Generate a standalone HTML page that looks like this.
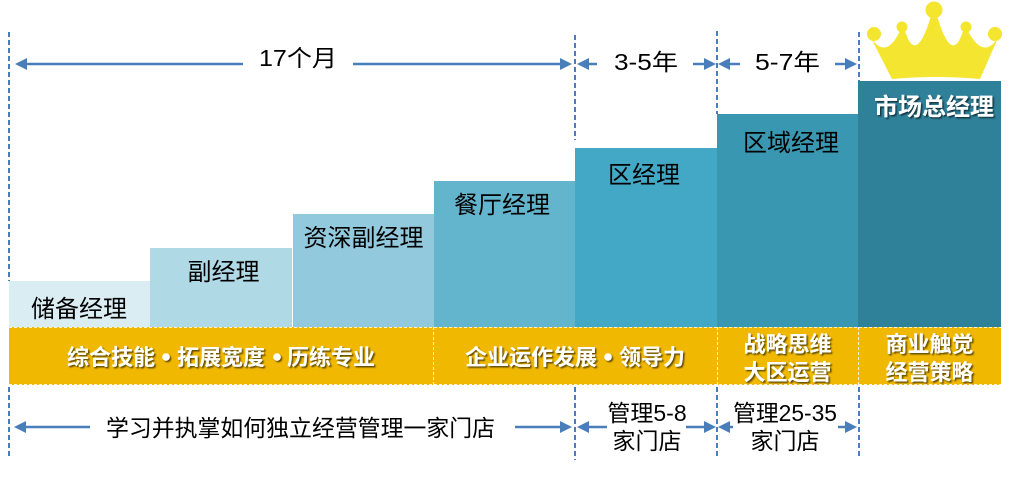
<!DOCTYPE html>
<html><head><meta charset="utf-8">
<style>
html,body{margin:0;padding:0;background:#fff;}
svg{display:block;}
text{font-family:"Liberation Sans","Noto Sans CJK SC","WenQuanYi Zen Hei",sans-serif;}
.lbl{font-size:24px;fill:#000;text-anchor:middle;}
.wb{font-size:22px;font-weight:bold;fill:#fff;text-anchor:middle;}
.blk{font-size:23px;fill:#000;text-anchor:middle;}
</style></head>
<body>
<svg width="1015" height="490" viewBox="0 0 1015 490" xmlns="http://www.w3.org/2000/svg">
<defs>
<filter id="sh" x="-10%" y="-30%" width="130%" height="170%">
<feDropShadow dx="1.5" dy="1.5" stdDeviation="0.8" flood-color="#000" flood-opacity="0.6"/>
</filter>
</defs>

<!-- crown -->
<g fill="#f4e531">
<path d="M871,38 Q886,60 900,31 L905,31 Q916,66 931,16 L937,16 Q952,66 963,31 L968,31 Q983,60 998,38 L980,79 Q936,75 892,79 Z"/>
<circle cx="934" cy="10" r="8.5"/>
<circle cx="902" cy="27" r="5.5"/>
<circle cx="966" cy="27" r="5.5"/>
<circle cx="874" cy="34" r="7"/>
<circle cx="995" cy="34" r="7"/>
</g>

<!-- bars -->
<rect x="9" y="281" width="141" height="46" fill="#daedf3"/>
<rect x="150" y="248" width="142" height="79" fill="#b0d9e6"/>
<rect x="293" y="214" width="141" height="113" fill="#93c9dc"/>
<rect x="434" y="181" width="141" height="146" fill="#63b5cd"/>
<rect x="575" y="148" width="142" height="179" fill="#43a8c6"/>
<rect x="717" y="114" width="141" height="213" fill="#3997b1"/>
<rect x="858" y="81" width="143" height="246" fill="#2e8199"/>

<!-- yellow band -->
<rect x="9" y="327" width="992" height="58" fill="#f0b800"/>
<g stroke="#fff" stroke-width="1" stroke-dasharray="3 2" fill="none" opacity="0.85">
<line x1="9" y1="327.5" x2="1001" y2="327.5"/>
<line x1="9" y1="384.5" x2="1001" y2="384.5"/>
<line x1="433.5" y1="327" x2="433.5" y2="385"/>
<line x1="717.5" y1="327" x2="717.5" y2="385"/>
<line x1="858.5" y1="327" x2="858.5" y2="385"/>
</g>

<!-- dashed blue guides -->
<g stroke="#4a7ebb" stroke-width="2" stroke-dasharray="5 3" fill="none">
<line x1="9" y1="32" x2="9" y2="281"/>
<line x1="9" y1="387" x2="9" y2="458"/>
<line x1="575" y1="35" x2="575" y2="140"/>
<line x1="575" y1="387" x2="575" y2="460"/>
<line x1="717" y1="31" x2="717" y2="114"/>
<line x1="717" y1="387" x2="717" y2="458"/>
<line x1="859" y1="32" x2="859" y2="81"/>
<line x1="859" y1="387" x2="859" y2="456"/>
</g>

<!-- arrows -->
<g stroke="#4a7ebb" stroke-width="2.5" fill="none">
<line x1="25" y1="64" x2="243" y2="64"/>
<line x1="353" y1="64" x2="562" y2="64"/>
<line x1="588" y1="64" x2="597" y2="64"/>
<line x1="693" y1="64" x2="705" y2="64"/>
<line x1="729" y1="64" x2="740" y2="64"/>
<line x1="835" y1="64" x2="846" y2="64"/>

<line x1="24" y1="427" x2="90" y2="427"/>
<line x1="515" y1="427" x2="562" y2="427"/>
<line x1="587" y1="427" x2="607" y2="427"/>
<line x1="686" y1="427" x2="705" y2="427"/>
<line x1="729" y1="427" x2="733" y2="427"/>
<line x1="838" y1="427" x2="846" y2="427"/>
</g>
<g fill="#4a7ebb">
<polygon points="15,64 27,58 27,70"/>
<polygon points="572,64 560,58 560,70"/>
<polygon points="577,64 589,58 589,70"/>
<polygon points="716,64 704,58 704,70"/>
<polygon points="718,64 730,58 730,70"/>
<polygon points="857,64 845,58 845,70"/>

<polygon points="14,427 26,421 26,433"/>
<polygon points="572,427 560,421 560,433"/>
<polygon points="577,427 589,421 589,433"/>
<polygon points="716,427 704,421 704,433"/>
<polygon points="718,427 730,421 730,433"/>
<polygon points="857,427 845,421 845,433"/>
</g>

<!-- top labels -->
<text class="blk" x="298" y="66" textLength="78" lengthAdjust="spacingAndGlyphs">17个月</text>
<text class="blk" x="646" y="70" textLength="64" lengthAdjust="spacingAndGlyphs">3-5年</text>
<text class="blk" x="787.5" y="70" textLength="65" lengthAdjust="spacingAndGlyphs">5-7年</text>

<!-- bar labels -->
<text class="lbl" x="79" y="317">储备经理</text>
<text class="lbl" x="223.5" y="280">副经理</text>
<text class="lbl" x="363.5" y="246">资深副经理</text>
<text class="lbl" x="502" y="213">餐厅经理</text>
<text class="lbl" x="644" y="183">区经理</text>
<text class="lbl" x="791" y="151">区域经理</text>
<text class="lbl" x="934" y="115" style="font-weight:bold;fill:#fff" filter="url(#sh)">市场总经理</text>

<!-- yellow band labels -->
<g filter="url(#sh)">
<text class="wb" x="111" y="365">综合技能</text>
<circle cx="166" cy="357" r="3.8" fill="#fff"/>
<text class="wb" x="221" y="365">拓展宽度</text>
<circle cx="277" cy="357" r="3.8" fill="#fff"/>
<text class="wb" x="331" y="365">历练专业</text>

<text class="wb" x="531" y="365">企业运作发展</text>
<circle cx="608" cy="357" r="3.8" fill="#fff"/>
<text class="wb" x="652" y="365">领导力</text>

<text class="wb" x="787.5" y="352">战略思维</text>
<text class="wb" x="787.5" y="380">大区运营</text>
<text class="wb" x="929.5" y="352">商业触觉</text>
<text class="wb" x="929.5" y="380">经营策略</text>
</g>

<!-- bottom labels -->
<text class="blk" x="300.5" y="436" textLength="389" lengthAdjust="spacingAndGlyphs">学习并执掌如何独立经营管理一家门店</text>
<text class="blk" x="647" y="421">管理5-8</text>
<text class="blk" x="647" y="449">家门店</text>
<text class="blk" x="785" y="421" textLength="104" lengthAdjust="spacingAndGlyphs">管理25-35</text>
<text class="blk" x="785" y="449">家门店</text>
</svg>
</body></html>
